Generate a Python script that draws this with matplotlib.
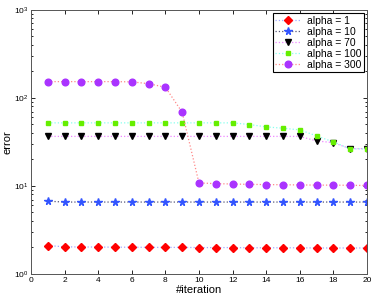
import matplotlib
matplotlib.use("Agg")
import matplotlib.pyplot as plt
from matplotlib.ticker import LogLocator, NullFormatter

plt.rcParams['font.family'] = ['Liberation Sans', 'DejaVu Sans']

iterations = list(range(1, 21))

err_alpha1 = [2.1, 2.03, 2.02, 2.02, 2.01, 2.01, 2.0, 2.0, 2.0, 1.99,
              1.99, 1.99, 1.98, 1.98, 1.98, 1.98, 1.97, 1.97, 1.97, 1.97]
err_alpha10 = [6.7, 6.55, 6.55, 6.55, 6.55, 6.55, 6.55, 6.55, 6.55, 6.55,
               6.55, 6.55, 6.55, 6.55, 6.55, 6.55, 6.55, 6.55, 6.55, 6.55]
err_alpha70 = [36.5, 36.5, 36.5, 36.5, 36.5, 36.5, 36.5, 36.5, 36.5, 36.5,
               36.5, 36.5, 36.5, 36.5, 36.5, 36.5, 32.4, 31.0, 26.5, 26.5]
err_alpha100 = [52, 52, 52, 52, 52, 52, 52, 52, 52, 52,
                52, 52, 49.8, 46.8, 45.2, 43.3, 37.0, 31.6, 26.3, 26.3]
err_alpha300 = [153, 153, 153, 153, 153, 152, 145, 132, 68.7, 10.8,
                10.6, 10.5, 10.4, 10.35, 10.3, 10.25, 10.2, 10.2, 10.15, 10.1]

labels = ['alpha = 1', 'alpha = 10', 'alpha = 70', 'alpha = 100', 'alpha = 300']

fig = plt.figure(figsize=(3.74, 2.99), dpi=100)
ax = fig.add_axes([0.083, 0.084, 0.898, 0.883])

series = [
    (err_alpha1, 'D', '#ff0000', '#a0a8ff', 4),
    (err_alpha10, '*', '#3355ff', '#555577', 5.5),
    (err_alpha70, 'v', '#000000', '#ee88ff', 4.5),
    (err_alpha100, 's', '#66ee00', '#88ffee', 3.5),
    (err_alpha300, 'o', '#aa33ff', '#ff8888', 4.8),
]
for (vals, mk, mcol, lcol, ms), lab in zip(series, labels):
    ax.plot(iterations, vals, linestyle=':', color=lcol, linewidth=0.9,
            marker=mk, markerfacecolor=mcol, markeredgecolor=mcol,
            markersize=ms, label=lab)

ax.set_yscale('log')
ax.set_xlim(0, 20)
ax.set_ylim(1, 1000)
ax.set_xticks(range(0, 21, 2))
ax.yaxis.set_minor_locator(LogLocator(base=10, subs=range(2, 10)))
ax.yaxis.set_minor_formatter(NullFormatter())
ax.tick_params(which='both', direction='in', top=True, right=True,
               labelsize=6, pad=2, width=0.6)
ax.tick_params(which='major', length=3)
ax.tick_params(which='minor', length=1.5)
for s in ax.spines.values():
    s.set_linewidth(0.7)
    s.set_color('#555555')

ax.set_xlabel('#iteration', fontsize=8, labelpad=1)
ax.set_ylabel('error', fontsize=8, labelpad=1)

leg = ax.legend(loc='upper right', fontsize=7.5, fancybox=False,
                edgecolor='black', framealpha=1, borderpad=0.25,
                labelspacing=0.1, handlelength=2.4, handletextpad=0.6,
                borderaxespad=0.3)
leg.get_frame().set_linewidth(0.8)

fig.savefig('out.png', dpi=100)
